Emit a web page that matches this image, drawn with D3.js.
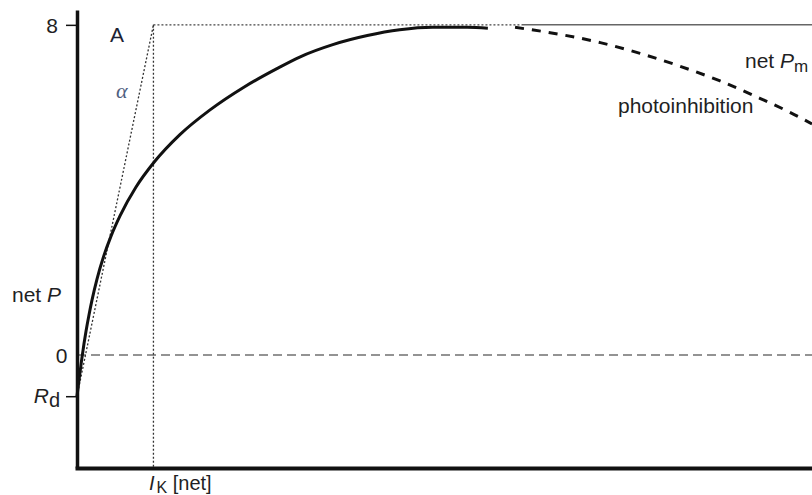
<!DOCTYPE html>
<html>
<head>
<meta charset="utf-8">
<script src="https://cdn.jsdelivr.net/npm/d3@7"></script>
<style>
  html, body { margin: 0; padding: 0; background: #fff; }
  svg { display: block; font-family: "Liberation Sans", Arial, Helvetica, sans-serif; }
</style>
</head>
<body>
<svg id="chart" width="812" height="495"></svg>
<script>
// P–I curve: net photosynthesis against irradiance (arbitrary units)
const Rd = -1;          // dark respiration
const PmNet = 8;        // net maximum photosynthesis
const Ik = 104;         // light saturation parameter

// light-limited and saturated part (solid)
const lightI = [0, 2.7, 6.1, 9.5, 12.2, 16.3, 20.4, 27.2, 36.1, 46.3, 58.5, 80.3, 104.8, 140, 181, 227, 272, 303, 348, 395, 439, 484, 531, 559];
const netP   = [-1.0, -0.61, -0.15, 0.27, 0.57, 0.97, 1.33, 1.84, 2.38, 2.88, 3.37, 4.07, 4.67, 5.34, 5.94, 6.49, 6.94, 7.22, 7.52, 7.74, 7.88, 7.94, 7.94, 7.92];

// photoinhibition branch (dashed)
const inhibI = [596, 657, 712, 766, 820, 875, 929, 970, 1000];
const inhibP = [7.94, 7.77, 7.57, 7.31, 7.00, 6.64, 6.22, 5.88, 5.60];

const yTicks = [Rd, 0, PmNet];

const svg = d3.select("#chart");
const x = d3.scaleLinear().domain([0, 1000]).range([77, 812]);
const y = d3.scaleLinear().domain([-2.74, 8.36]).range([468, 10]);

const ink = "#1f1f24";
const line = d3.line().x(d => x(d[0])).y(d => y(d[1]));

// zero line
svg.append("path")
  .attr("d", line([[0, 0], [1000, 0]]))
  .attr("fill", "none").attr("stroke", "#707070")
  .attr("stroke-width", 1.5).attr("stroke-dasharray", "9,5");

// I_k marker
svg.append("path")
  .attr("d", line([[Ik, PmNet], [Ik, -2.74]]))
  .attr("fill", "none").attr("stroke", "#333")
  .attr("stroke-width", 1.3).attr("stroke-dasharray", "2,2");

// initial slope alpha
svg.append("path")
  .attr("d", line([[0, Rd], [Ik, PmNet]]))
  .attr("fill", "none").attr("stroke", "#333")
  .attr("stroke-width", 1.3).attr("stroke-dasharray", "2,2");

// net Pm level: dotted then solid
svg.append("path")
  .attr("d", line([[Ik, PmNet], [605, PmNet]]))
  .attr("fill", "none").attr("stroke", "#444")
  .attr("stroke-width", 1.3).attr("stroke-dasharray", "2,2");
svg.append("path")
  .attr("d", line([[605, PmNet], [1000, PmNet]]))
  .attr("fill", "none").attr("stroke", "#666")
  .attr("stroke-width", 1.5);

// main curve
const curve = d3.line().x(d => x(d[0])).y(d => y(d[1])).curve(d3.curveMonotoneX);
svg.append("path")
  .attr("d", curve(d3.zip(lightI, netP)))
  .attr("fill", "none").attr("stroke", "#111")
  .attr("stroke-width", 3);

svg.append("path")
  .attr("d", curve(d3.zip(inhibI, inhibP)))
  .attr("fill", "none").attr("stroke", "#111")
  .attr("stroke-width", 3).attr("stroke-dasharray", "9,8");

// y axis
const gy = svg.append("g")
  .attr("transform", `translate(${x(0)},0)`)
  .call(d3.axisLeft(y).tickValues(yTicks).tickSize(11).tickSizeOuter(0).tickFormat(d3.format("d")));
gy.select(".domain").attr("stroke", "#111").attr("stroke-width", 3.5);
gy.selectAll(".tick line").attr("stroke", "#111").attr("stroke-width", 1.5);
gy.selectAll(".tick text")
  .attr("font-size", 21).attr("fill", ink).attr("font-family", null)
  .attr("dy", "0.36em");
gy.selectAll(".tick").filter(d => d === 0).select("line").remove();
gy.selectAll(".tick").filter(d => d === 0).select("text").attr("x", -9.5);
gy.selectAll(".tick").filter(d => d === PmNet).select("text").attr("x", -19);
gy.selectAll(".tick").filter(d => d === Rd).select("text").each(function () {
  const t = d3.select(this).text("").attr("x", -17).attr("dy", "0.3em");
  t.append("tspan").attr("font-style", "italic").text("R");
  t.append("tspan").attr("font-size", 20).attr("dy", 4).text("d");
});

// x axis
const gx = svg.append("g")
  .attr("transform", `translate(0,${y(-2.74)})`)
  .call(d3.axisBottom(x).tickValues([Ik]).tickSize(0).tickSizeOuter(0));
gx.select(".domain").attr("stroke", "#111").attr("stroke-width", 4).attr("stroke-linecap", "square");
gx.selectAll(".tick text").each(function () {
  const t = d3.select(this).text("")
    .attr("font-family", null).attr("font-size", 20).attr("fill", ink)
    .attr("text-anchor", "start").attr("x", -5).attr("y", 22).attr("dy", 0);
  t.append("tspan").attr("font-style", "italic").text("I");
  t.append("tspan").attr("font-size", 16).attr("dy", 3).attr("dx", 2).text("K");
  t.append("tspan").attr("dy", -3).text(" [net]");
});

// annotations
svg.append("text").attr("x", 110).attr("y", 42)
  .attr("font-size", 21).attr("fill", "#1c2233").text("A");

svg.append("text").attr("x", 116).attr("y", 98)
  .attr("font-family", "'Liberation Serif', 'DejaVu Serif', serif")
  .attr("font-style", "italic").attr("font-size", 22).attr("fill", "#4f6080").text("α");

const lp = svg.append("text").attr("x", 12).attr("y", 302)
  .attr("font-size", 21).attr("fill", ink);
lp.append("tspan").text("net ");
lp.append("tspan").attr("font-style", "italic").text("P");

const lm = svg.append("text").attr("x", 745).attr("y", 68)
  .attr("font-size", 21).attr("fill", ink);
lm.append("tspan").text("net ");
lm.append("tspan").attr("font-style", "italic").text("P");
lm.append("tspan").attr("font-size", 17).attr("dy", 4).text("m");

svg.append("text").attr("x", 618).attr("y", 113)
  .attr("font-size", 21).attr("fill", ink).text("photoinhibition");
</script>
</body>
</html>
